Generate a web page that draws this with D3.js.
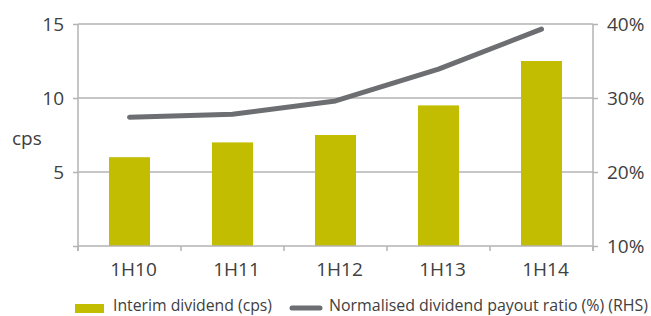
<!DOCTYPE html>
<html><head><meta charset="utf-8">
<script src="https://cdn.jsdelivr.net/npm/d3@7/dist/d3.min.js"></script>
<style>body{margin:0;background:#fff;} text{font-family:"Open Sans",sans-serif;fill:#404040;}</style>
</head><body><svg id="c" width="651" height="316"></svg>
<script>
const categories = ["1H10","1H11","1H12","1H13","1H14"];
const dividend = [6.0, 7.0, 7.5, 9.5, 12.5];
const payout = [27.4, 27.8, 29.6, 33.9, 39.3];
const leftTicks = [0,5,10,15];
const rightTicks = [10,20,30,40];

const svg = d3.select("#c");
const L = 78, R = 593, T = 24, B = 246;
const xb = d3.scaleBand().domain(categories).range([L,R]);
const y = d3.scaleLinear().domain([0,15]).range([B,T]);
const y2 = d3.scaleLinear().domain([10,40]).range([B,T]);
const grid = "#b3b3b5";

// gridlines
svg.append("g").selectAll("line").data(leftTicks.filter(d=>d>0)).join("line")
  .attr("x1",L).attr("x2",R).attr("y1",d=>y(d)).attr("y2",d=>y(d))
  .attr("stroke",grid).attr("stroke-width",1.5);

// bars
svg.append("g").selectAll("rect").data(dividend).join("rect")
  .attr("x",(d,i)=>xb(categories[i])+xb.bandwidth()/2-20.5)
  .attr("width",41)
  .attr("y",d=>y(d)).attr("height",d=>B-y(d))
  .attr("fill","#c2bd00");

// left axis
const la = svg.append("g").attr("transform",`translate(${L},0)`)
  .call(d3.axisLeft(y).tickValues(leftTicks).tickFormat(d=>d===0?"":d).tickSize(5).tickPadding(9));
// right axis
const ra = svg.append("g").attr("transform",`translate(${R},0)`)
  .call(d3.axisRight(y2).tickValues(rightTicks).tickFormat(d=>d+"%").tickSize(5).tickPadding(9));
// bottom axis
const ba = svg.append("g").attr("transform",`translate(0,${B})`)
  .call(d3.axisBottom(xb).tickSize(0).tickPadding(17));
svg.append("g").selectAll("line").data(categories.concat(["end"])).join("line")
  .attr("x1",(d,i)=>L+i*xb.step()).attr("x2",(d,i)=>L+i*xb.step())
  .attr("y1",B).attr("y2",B+5).attr("stroke",grid).attr("stroke-width",1.5);

[la,ra,ba].forEach(g=>{
  g.selectAll(".domain").attr("stroke",grid).attr("stroke-width",1.5);
  g.selectAll(".tick line").attr("stroke",grid).attr("stroke-width",1.5);
  g.selectAll("text").style("font-family",'"Open Sans",sans-serif').style("font-size","19px").attr("fill","#404040");
});
la.select(".domain").attr("d",`M0,${T}V${B+5}`);
ra.select(".domain").attr("d",`M0,${T}V${B+5}`);
ba.select(".domain").attr("d",`M${L},0H${R}`);
ba.selectAll("text").style("font-size","19px").attr("dx",4);

// line
const line = d3.line().x((d,i)=>xb(categories[i])+xb.bandwidth()/2).y(d=>y2(d));
svg.append("path").datum(payout).attr("d",line).attr("fill","none")
  .attr("stroke","#6d6e71").attr("stroke-width",5).attr("stroke-linecap","round").attr("stroke-linejoin","round");

// y label
svg.append("text").attr("x",12).attr("y",145).style("font-size","19px").text("cps");

// legend
svg.append("rect").attr("x",75).attr("y",304).attr("width",29).attr("height",9).attr("fill","#c2bd00");
svg.append("text").attr("x",113).attr("y",311).style("font-size","16px")
  .attr("textLength",159).attr("lengthAdjust","spacingAndGlyphs").text("Interim dividend (cps)");
svg.append("line").attr("x1",292).attr("x2",320).attr("y1",308).attr("y2",308)
  .attr("stroke","#6d6e71").attr("stroke-width",5).attr("stroke-linecap","round");
svg.append("text").attr("x",329).attr("y",311).style("font-size","16px")
  .attr("textLength",319).attr("lengthAdjust","spacingAndGlyphs").text("Normalised dividend payout ratio (%) (RHS)");
</script></body></html>
